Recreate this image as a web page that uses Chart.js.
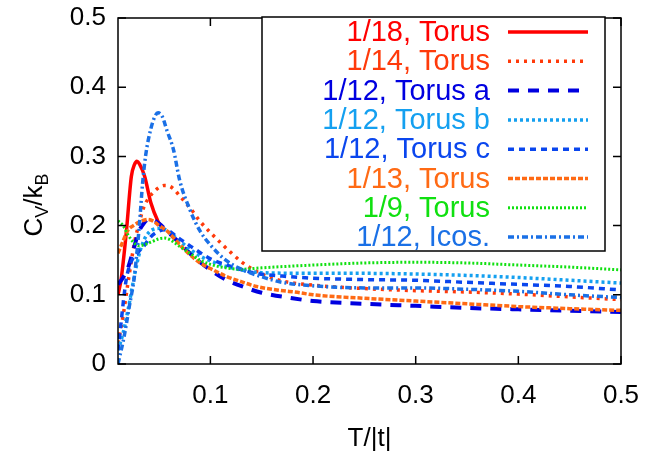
<!DOCTYPE html>
<html>
<head>
<meta charset="utf-8">
<script src="https://cdn.jsdelivr.net/npm/chart.js@4/dist/chart.umd.min.js"></script>
<style>
  html, body { margin: 0; padding: 0; background: #fff; }
  #wrap { width: 648px; height: 456px; }
</style>
</head>
<body>
<div id="wrap"><canvas id="c" width="648" height="456"></canvas></div>
<script>
const FONT = '"Liberation Sans", Arial, sans-serif';
const FSIZE = 26;      // ticks and axis titles
const LSIZE = 29;      // legend text

// --- axes ---
const xTicks = [0.1, 0.2, 0.3, 0.4, 0.5];
const yTicks = [0, 0.1, 0.2, 0.3, 0.4, 0.5];
const xRange = [0.01, 0.5];
const yRange = [0, 0.5];

// --- series (T/|t| , Cv/kB) ---
const names = ['1/18, Torus', '1/14, Torus', '1/12, Torus a', '1/12, Torus b',
               '1/12, Torus c', '1/13, Torus', '1/9, Torus', '1/12, Icos.'];

const t18  = [0.010, 0.013, 0.018, 0.023, 0.026, 0.0285, 0.031, 0.036, 0.042, 0.049, 0.052];
const cv18 = [0.100, 0.122, 0.189, 0.271, 0.288, 0.293, 0.289, 0.271, 0.233, 0.206, 0.199];

const t14  = [0.010, 0.015, 0.020, 0.026, 0.030, 0.035, 0.040, 0.048, 0.055, 0.060, 0.065, 0.070, 0.080, 0.090,
              0.100, 0.110, 0.120, 0.130, 0.140, 0.150, 0.170, 0.200, 0.250, 0.300, 0.350, 0.400, 0.450, 0.500];
const cv14 = [0.030, 0.070, 0.120, 0.175, 0.200, 0.226, 0.240, 0.253, 0.258, 0.257, 0.252, 0.243, 0.226, 0.206,
              0.190, 0.175, 0.161, 0.148, 0.138, 0.130, 0.120, 0.114, 0.109, 0.106, 0.104, 0.101, 0.097, 0.093];

const tA  = [0.010, 0.015, 0.020, 0.025, 0.030, 0.035, 0.040, 0.045, 0.050, 0.060, 0.070, 0.080, 0.090,
             0.100, 0.115, 0.135, 0.150, 0.180, 0.200, 0.250, 0.300, 0.350, 0.400, 0.450, 0.500];
const cvA = [0.115, 0.125, 0.140, 0.165, 0.190, 0.203, 0.209, 0.208, 0.203, 0.189, 0.175, 0.160, 0.147,
             0.136, 0.122, 0.110, 0.103, 0.095, 0.091, 0.087, 0.084, 0.081, 0.079, 0.077, 0.075];

const tB  = [0.010, 0.015, 0.020, 0.025, 0.030, 0.035, 0.040, 0.045, 0.050, 0.055, 0.060, 0.070, 0.080,
             0.090, 0.100, 0.115, 0.130, 0.150, 0.200, 0.250, 0.300, 0.350, 0.400, 0.450, 0.500];
const cvB = [0.020, 0.045, 0.080, 0.120, 0.155, 0.178, 0.190, 0.195, 0.196, 0.195, 0.190, 0.178, 0.166,
             0.156, 0.149, 0.141, 0.136, 0.132, 0.131, 0.131, 0.130, 0.128, 0.125, 0.121, 0.117];

const tC  = [0.010, 0.013, 0.016, 0.018, 0.022, 0.030, 0.035, 0.042, 0.050, 0.055, 0.060, 0.067, 0.075,
             0.083, 0.100, 0.120, 0.145, 0.170, 0.200, 0.250, 0.300, 0.350, 0.400, 0.450, 0.500];
const cvC = [0.020, 0.060, 0.100, 0.122, 0.145, 0.162, 0.170, 0.184, 0.192, 0.194, 0.192, 0.184, 0.176,
             0.168, 0.152, 0.141, 0.131, 0.127, 0.124, 0.122, 0.121, 0.118, 0.115, 0.112, 0.107];

const t13  = [0.010, 0.015, 0.020, 0.025, 0.032, 0.039, 0.045, 0.050, 0.058, 0.065, 0.073, 0.080, 0.090,
              0.100, 0.115, 0.130, 0.145, 0.165, 0.187, 0.200, 0.250, 0.300, 0.350, 0.400, 0.450, 0.500];
const cv13 = [0.160, 0.178, 0.194, 0.200, 0.206, 0.209, 0.206, 0.200, 0.192, 0.181, 0.168, 0.158, 0.146,
              0.138, 0.127, 0.119, 0.112, 0.107, 0.103, 0.100, 0.095, 0.091, 0.087, 0.083, 0.080, 0.0775];

const t9  = [0.010, 0.015, 0.020, 0.025, 0.030, 0.035, 0.042, 0.050, 0.055, 0.060, 0.070, 0.080,
             0.090, 0.100, 0.115, 0.130, 0.150, 0.200, 0.250, 0.300, 0.350, 0.400, 0.450, 0.500];
const cv9 = [0.207, 0.200, 0.186, 0.176, 0.171, 0.172, 0.176, 0.181, 0.182, 0.180, 0.170, 0.160,
             0.150, 0.144, 0.139, 0.137, 0.139, 0.143, 0.146, 0.147, 0.146, 0.143, 0.140, 0.136];

const tI  = [0.010, 0.016, 0.021, 0.026, 0.031, 0.034, 0.037, 0.042, 0.046, 0.049, 0.053, 0.058, 0.064, 0.070,
             0.080, 0.090, 0.100, 0.115, 0.130, 0.150, 0.170, 0.200, 0.250, 0.300, 0.350, 0.400, 0.450, 0.500];
const cvI = [0.000, 0.040, 0.083, 0.127, 0.204, 0.262, 0.302, 0.340, 0.358, 0.363, 0.358, 0.336, 0.310, 0.266,
             0.223, 0.192, 0.172, 0.150, 0.137, 0.126, 0.118, 0.113, 0.110, 0.110, 0.108, 0.105, 0.100, 0.096];

const seriesT  = [t18, t14, tA, tB, tC, t13, t9, tI];
const seriesCv = [cv18, cv14, cvA, cvB, cvC, cv13, cv9, cvI];

// --- styles ---
const colors = ['#ff0000', '#ff3a0a', '#0000e0', '#14a0f0', '#0a46ee', '#ff6a14', '#10e010', '#1a70e6'];
const dashes = [[], [3, 5], [11, 9], [3, 3], [6, 5], [5, 2], [2, 2], [6, 3, 2, 3]];
const widths = [3.5, 3.5, 4, 3.5, 3.5, 3.5, 3, 3.5];

const zip = (a, b) => a.map((v, i) => ({ x: v, y: b[i] }));

const datasets = names.map((n, i) => ({
    label: n,
    data: zip(seriesT[i], seriesCv[i]),
    borderColor: colors[i],
    borderWidth: widths[i],
    borderDash: dashes[i],
    pointRadius: 0,
    fill: false,
    cubicInterpolationMode: 'monotone',
    order: -i            // later series on top, like gnuplot
}));

// frame, inward ticks on all four sides, y title with subscripts, legend box
const decor = {
    id: 'decor',
    afterDatasetsDraw(chart) {
        const { ctx, chartArea: a, scales } = chart;
        ctx.save();
        ctx.strokeStyle = '#000';
        ctx.lineWidth = 1.5;
        ctx.strokeRect(a.left, a.top, a.right - a.left, a.bottom - a.top);
        const tl = 8;
        ctx.beginPath();
        xTicks.forEach(v => {
            const px = scales.x.getPixelForValue(v);
            ctx.moveTo(px, a.bottom); ctx.lineTo(px, a.bottom - tl);
            ctx.moveTo(px, a.top); ctx.lineTo(px, a.top + tl);
        });
        yTicks.forEach(v => {
            const py = scales.y.getPixelForValue(v);
            ctx.moveTo(a.left, py); ctx.lineTo(a.left + tl, py);
            ctx.moveTo(a.right, py); ctx.lineTo(a.right - tl, py);
        });
        ctx.stroke();

        // legend
        const box = { l: 262, t: 17, r: 605, b: 251 };
        ctx.fillStyle = '#fff';
        ctx.fillRect(box.l, box.t, box.r - box.l, box.b - box.t);
        ctx.strokeRect(box.l, box.t, box.r - box.l, box.b - box.t);
        ctx.font = LSIZE + 'px ' + FONT;
        ctx.textAlign = 'right';
        ctx.textBaseline = 'middle';
        names.forEach((n, i) => {
            const y = 32 + i * 29.3;
            ctx.fillStyle = colors[i];
            ctx.fillText(n, 490, y + 1);
            ctx.strokeStyle = colors[i];
            ctx.lineWidth = widths[i];
            ctx.setLineDash(dashes[i]);
            ctx.beginPath();
            ctx.moveTo(508, y); ctx.lineTo(588, y);
            ctx.stroke();
        });
        ctx.setLineDash([]);

        // y title: C_V/k_B rotated
        ctx.translate(42, 205);
        ctx.rotate(-Math.PI / 2);
        ctx.fillStyle = '#000';
        ctx.textAlign = 'left';
        ctx.textBaseline = 'alphabetic';
        const big = FSIZE + 'px ' + FONT, small = Math.round(FSIZE * 0.7) + 'px ' + FONT;
        const parts = [['C', big, 0], ['V', small, 6], ['/k', big, 0], ['B', small, 6]];
        let w = 0;
        parts.forEach(p => { ctx.font = p[1]; w += ctx.measureText(p[0]).width; });
        let x = -w / 2;
        parts.forEach(p => {
            ctx.font = p[1];
            ctx.fillText(p[0], x, p[2]);
            x += ctx.measureText(p[0]).width;
        });
        ctx.restore();
    }
};

new Chart(document.getElementById('c'), {
    type: 'line',
    data: { datasets },
    options: {
        responsive: false,
        animation: false,
        devicePixelRatio: 1,
        layout: { padding: { top: 18, right: 27, left: 0, bottom: 0 } },
        plugins: { legend: { display: false }, tooltip: { enabled: false } },
        scales: {
            x: {
                type: 'linear',
                min: xRange[0], max: xRange[1],
                afterBuildTicks: s => { s.ticks = xTicks.map(v => ({ value: v })); },
                afterFit: s => { s.height = 92; s.paddingLeft = 0; s.paddingRight = 0; },
                grid: { display: false, drawTicks: false },
                border: { display: false },
                ticks: {
                    padding: 16, color: '#000', maxRotation: 0,
                    font: { family: FONT, size: FSIZE },
                    callback: v => String(v)
                },
                title: { display: true, text: 'T/|t|', color: '#000', font: { family: FONT, size: FSIZE }, padding: { bottom: 2 } }
            },
            y: {
                min: yRange[0], max: yRange[1],
                afterBuildTicks: s => { s.ticks = yTicks.map(v => ({ value: v })); },
                afterFit: s => { s.width = 118; s.paddingTop = 0; s.paddingBottom = 0; },
                grid: { display: false, drawTicks: false },
                border: { display: false },
                ticks: {
                    padding: 12, color: '#000',
                    font: { family: FONT, size: FSIZE },
                    callback: v => String(v)
                }
            }
        }
    },
    plugins: [decor]
});
</script>
</body>
</html>
